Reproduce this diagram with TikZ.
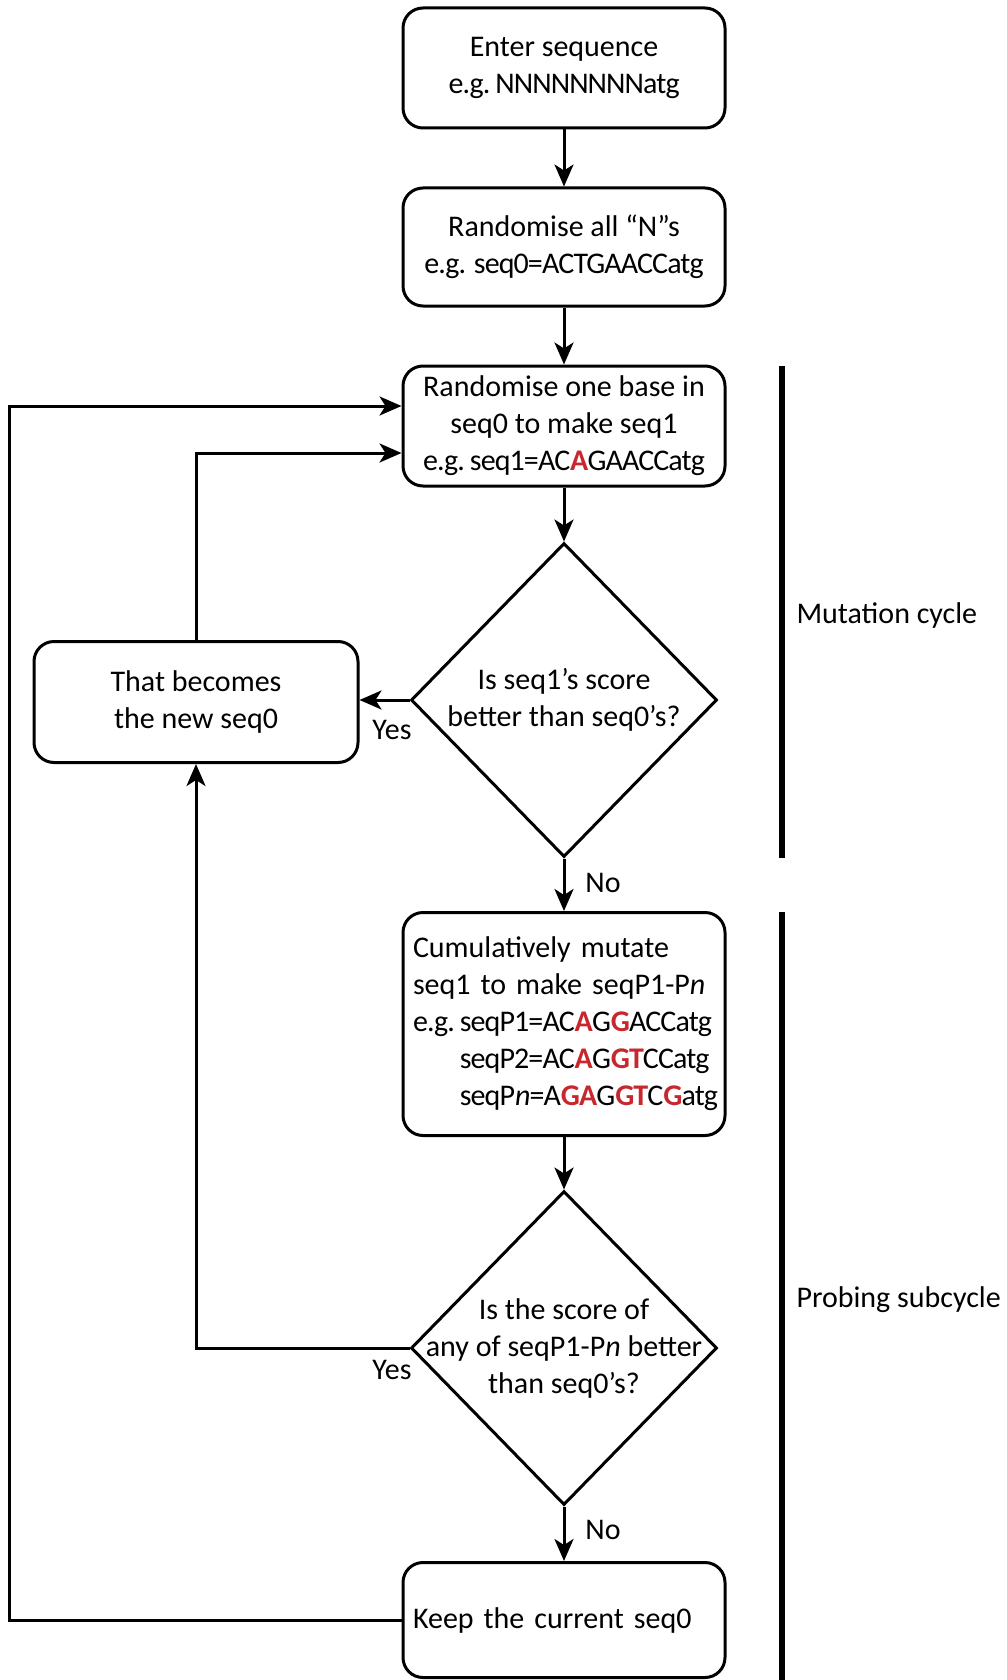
\documentclass[tikz,border=0pt]{standalone}
\usepackage{fontspec}
\setmainfont{Carlito}
\usetikzlibrary{shapes.geometric,arrows.meta}
\definecolor{mutred}{RGB}{198,40,46}
\newcommand{\mut}[1]{\textcolor{mutred}{\textbf{#1}}}
\newcommand{\seqtight}{\addfontfeature{LetterSpace=-3}}
\newcommand{\eg}{e.g.\hspace{5pt}}

\begin{document}
\begin{tikzpicture}[x=1pt,y=-1pt,
      every node/.style={font=\fontsize{30pt}{37pt}\selectfont},
      box/.style={draw,line width=3pt,rounded corners=20pt,minimum width=322pt,align=center},
      leftbox/.style={box,align=left,text width=302pt,inner sep=10pt},
      decision/.style={draw,line width=3pt,diamond,minimum width=306pt,minimum height=314pt,inner sep=0pt},
      arrow/.style={line width=3pt,-{Stealth[length=22pt,width=19pt,inset=6pt]}},
      bar/.style={line width=6pt}]
      \useasboundingbox (0,0) rectangle (1006,1680);
      \node[box,minimum height=120pt] (enter) at (564,68) {Enter sequence\\{\seqtight\eg NNNNNNNNatg}};
      \node[box,minimum height=118pt] (randn) at (564,247) {Randomise all “N”s\\{\seqtight e.g. seq0=ACTGAACCatg}};
      \node[box,minimum height=120pt] (base) at (564,426) {Randomise one base in\\seq0 to make seq1\\{\seqtight\eg seq1=AC\mut{A}GAACCatg}};
      \node[decision] (better) at (564,700) {};
      \node[align=center] (bettertext) at (better) {Is seq1’s score\\better than seq0’s?};
      \node[box,minimum width=324pt,minimum height=121pt] (newseq) at (196,702) {That becomes\\the new seq0};
      \node[leftbox,minimum height=223pt] (mutate) at (564,1024) {Cumulatively mutate\\seq1 to make seqP1-P\textit{n}\\{\seqtight\eg seqP1=AC\mut{A}G\mut{G}ACCatg}\\{\seqtight\hphantom{\eg}seqP2=AC\mut{A}G\mut{GT}CCatg}\\{\seqtight\hphantom{\eg}seqP\textit{n}=A\mut{GA}G\mut{GT}C\mut{G}atg}};
      \node[decision] (probe) at (564,1348) {};
      \node[align=center] (probetext) at (probe) {Is the score of\\any of seqP1-P\textit{n} better\\than seq0’s?};
      \node[leftbox,minimum height=115pt] (keep) at (564,1620) {Keep the current seq0};
      \node (yesa) at (392,730) {Yes};
      \node (noa) at (603,883) {No};
      \node (yesb) at (392,1370) {Yes};
      \node (nob) at (603,1530) {No};
      \node[anchor=west] (mutcycle) at (793,615) {Mutation cycle};
      \node[anchor=west] (probecycle) at (793,1300) {Probing subcycle};
      \draw[bar] (782,366) -- (782,858);
      \draw[bar] (782,912) -- (782,1680);
      \draw[arrow] (enter) -- (randn);
      \draw[arrow] (randn) -- (base);
      \draw[arrow] (base) -- (better);
      \draw[arrow] (better.west) -- (better.west -| newseq.east);
      \draw[arrow] (better) -- (mutate);
      \draw[arrow] (mutate) -- (probe);
      \draw[arrow] (probe.west) -| (newseq.south);
      \draw[arrow] (probe) -- (keep);
      \draw[arrow] (newseq.north) |- ([yshift=-27pt]base.west);
      \coordinate (outer) at (9,0);
      \draw[arrow] (keep.west) -- (keep.west -| outer) |- ([yshift=20pt]base.west);
    \end{tikzpicture}
\end{document}
